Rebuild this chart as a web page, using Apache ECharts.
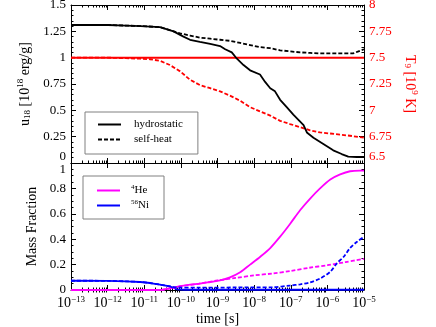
<!DOCTYPE html>
<html>
<head>
<meta charset="utf-8">
<script src="https://cdn.jsdelivr.net/npm/echarts@6/dist/echarts.min.js"></script>
<style>
html, body { margin: 0; padding: 0; background: #fff; }
#chart { width: 436px; height: 327px; }
</style>
</head>
<body>
<div id="chart"></div>
<script>
// time is kept as log10(t / s)
const xTicks = [-13, -12, -11, -10, -9, -8, -7, -6, -5]

// top panel: u18 (left axis) and T9 (right axis)
const uHydro = [[-13, 1.31], [-12, 1.31], [-11.5, 1.305], [-11.1, 1.3], [-10.57, 1.29], [-10.2, 1.25], [-9.93, 1.2], [-9.75, 1.17], [-9.48, 1.15], [-9.2, 1.13], [-8.93, 1.11], [-8.79, 1.08], [-8.61, 1.05], [-8.47, 0.99], [-8.29, 0.93], [-8.11, 0.88], [-7.84, 0.84], [-7.7, 0.77], [-7.56, 0.71], [-7.43, 0.68], [-7.29, 0.6], [-7.11, 0.53], [-6.93, 0.46], [-6.79, 0.41], [-6.65, 0.36], [-6.56, 0.29], [-6.38, 0.24], [-6.11, 0.18], [-5.84, 0.12], [-5.61, 0.085], [-5.43, 0.06], [-5.2, 0.057], [-5, 0.057]]
const uSelf = [[-13, 1.31], [-12, 1.31], [-11.1, 1.3], [-10.57, 1.29], [-10.2, 1.25], [-10.02, 1.23], [-9.75, 1.21], [-9.48, 1.19], [-9.2, 1.18], [-8.93, 1.17], [-8.66, 1.16], [-8.38, 1.14], [-8.11, 1.12], [-7.84, 1.1], [-7.56, 1.09], [-7.29, 1.07], [-7.02, 1.06], [-6.74, 1.05], [-6.47, 1.045], [-6.2, 1.04], [-5.92, 1.04], [-5.65, 1.04], [-5.3, 1.04], [-5.15, 1.06], [-5, 1.08]]
const tHydro = [[-13, 7.5], [-5, 7.5]]
const tSelf = [[-13, 7.5], [-12, 7.5], [-11.5, 7.495], [-11.11, 7.49], [-10.84, 7.485], [-10.57, 7.47], [-10.3, 7.43], [-10.02, 7.37], [-9.75, 7.29], [-9.48, 7.24], [-9.2, 7.21], [-8.93, 7.18], [-8.66, 7.14], [-8.38, 7.09], [-8.11, 7.03], [-7.84, 6.99], [-7.56, 6.95], [-7.29, 6.9], [-7.02, 6.87], [-6.74, 6.84], [-6.47, 6.81], [-6.2, 6.79], [-5.92, 6.78], [-5.65, 6.77], [-5.3, 6.755], [-5, 6.74]]

// bottom panel: mass fractions
const heHydro = [[-13, 0], [-10.6, 0], [-10.3, 0.015], [-10.02, 0.03], [-9.75, 0.042], [-9.48, 0.05], [-9.2, 0.063], [-8.93, 0.076], [-8.66, 0.1], [-8.38, 0.14], [-8.11, 0.2], [-7.84, 0.26], [-7.56, 0.33], [-7.29, 0.42], [-7.02, 0.52], [-6.74, 0.63], [-6.47, 0.72], [-6.2, 0.8], [-5.92, 0.87], [-5.65, 0.91], [-5.38, 0.935], [-5.1, 0.94], [-5, 0.94]]
const heSelf = [[-13, 0], [-10.6, 0], [-10.3, 0.01], [-10, 0.03], [-9.5, 0.05], [-9, 0.075], [-8.5, 0.095], [-8, 0.115], [-7.5, 0.13], [-7, 0.15], [-6.5, 0.175], [-6, 0.195], [-5.5, 0.22], [-5, 0.245]]
const niHydro = [[-13, 0.073], [-12, 0.072], [-11.5, 0.068], [-11.11, 0.063], [-10.84, 0.055], [-10.57, 0.042], [-10.3, 0.029], [-10.2, 0.016], [-10.1, 0.005], [-9.9, 0.002], [-5, 0.002]]
const niSelf = [[-13, 0.073], [-12, 0.072], [-11.5, 0.068], [-11.11, 0.063], [-10.84, 0.055], [-10.57, 0.042], [-10.3, 0.029], [-10.1, 0.02], [-9.5, 0.018], [-8.5, 0.02], [-7.5, 0.022], [-7.02, 0.035], [-6.74, 0.045], [-6.47, 0.06], [-6.2, 0.09], [-5.92, 0.144], [-5.74, 0.21], [-5.56, 0.26], [-5.38, 0.33], [-5.19, 0.38], [-5, 0.42]]

const FONT = 'Liberation Serif'
// log minor tick positions (2..9 x 10^n)
const minorX = []
for (let n = -13; n < -5; n++) {
  for (let k = 2; k < 10; k++) minorX.push(n + Math.log10(k))
}

function xAxis(grid, position, opts) {
  return Object.assign({
    type: 'value',
    gridIndex: grid,
    position: position,
    min: -13,
    max: -5,
    interval: 1,
    axisLine: { show: true, onZero: false, lineStyle: { color: '#000', width: 1 } },
    axisTick: { show: true, inside: true, length: 5, lineStyle: { color: '#000' }, customValues: xTicks },
    axisLabel: { show: false },
    splitLine: { show: false }
  }, opts || {})
}
function minorAxis(grid, position) {
  return xAxis(grid, position, {
    axisLine: { show: false },
    axisTick: { show: true, inside: true, length: 2.5, lineStyle: { color: '#000' }, customValues: minorX }
  })
}

const chart = echarts.init(document.getElementById('chart'))
const options = {
  animation: false,
  textStyle: { fontFamily: FONT },
  grid: [
    { left: 71, top: 5, width: 293, height: 158, containLabel: false, outerBoundsMode: 'none' },
    { left: 71, top: 163, width: 293, height: 127, containLabel: false, outerBoundsMode: 'none' }
  ],
  xAxis: [
    xAxis(0, 'bottom'),
    xAxis(0, 'top'),
    minorAxis(0, 'bottom'),
    minorAxis(0, 'top'),
    xAxis(1, 'bottom', {
      name: 'time [s]',
      nameLocation: 'middle',
      nameGap: 22,
      nameTextStyle: { fontFamily: FONT, fontSize: 14, color: '#000' },
      axisLabel: {
        show: true,
        margin: 5,
        color: '#000',
        fontFamily: FONT,
        formatter: v => '{b|10}{s|' + String(v).replace('-', '\u2212') + '}',
        rich: {
          b: { fontFamily: FONT, fontSize: 14, color: '#000' },
          s: { fontFamily: FONT, fontSize: 9, color: '#000', padding: [0, 0, 8, 0] }
        }
      }
    }),
    xAxis(1, 'top'),
    minorAxis(1, 'bottom'),
    minorAxis(1, 'top')
  ],
  yAxis: [
    {
      type: 'value', gridIndex: 0, position: 'left', min: 0, max: 1.5, interval: 0.25,
      name: '{t|u}{sub|18}{t| [10}{sup|18}{t| erg/g]}',
      nameLocation: 'middle', nameRotate: 90, nameGap: 34,
      nameTextStyle: {
        rich: {
          t: { fontFamily: FONT, fontSize: 14, color: '#000' },
          sub: { fontFamily: FONT, fontSize: 9, color: '#000', padding: [6, 0, 0, 0] },
          sup: { fontFamily: FONT, fontSize: 9, color: '#000', padding: [0, 0, 8, 0] }
        }
      },
      axisLine: { show: true, onZero: false, lineStyle: { color: '#000' } },
      axisTick: { inside: true, length: 5, lineStyle: { color: '#000' } },
      minorTick: { show: true, splitNumber: 5, length: 2.5, lineStyle: { color: '#000' } },
      axisLabel: { color: '#000', fontFamily: FONT, fontSize: 13, margin: 5, verticalAlignMinLabel: 'bottom' },
      splitLine: { show: false }
    },
    {
      type: 'value', gridIndex: 0, position: 'right', min: 6.5, max: 8, interval: 0.25,
      name: '{t|T}{sub|9}{t| [10}{sup|9}{t| K]}',
      nameLocation: 'middle', nameRotate: 270, nameGap: 36,
      nameTextStyle: {
        rich: {
          t: { fontFamily: FONT, fontSize: 14, color: '#ff0000' },
          sub: { fontFamily: FONT, fontSize: 9, color: '#ff0000', padding: [6, 0, 0, 0] },
          sup: { fontFamily: FONT, fontSize: 9, color: '#ff0000', padding: [0, 0, 8, 0] }
        }
      },
      axisLine: { show: true, onZero: false, lineStyle: { color: '#000' } },
      axisTick: { inside: true, length: 5, lineStyle: { color: '#000' } },
      minorTick: { show: true, splitNumber: 5, length: 2.5, lineStyle: { color: '#000' } },
      axisLabel: { color: '#ff0000', fontFamily: FONT, fontSize: 13, margin: 5, verticalAlignMinLabel: 'bottom' },
      splitLine: { show: false }
    },
    {
      type: 'value', gridIndex: 1, position: 'left', min: 0, max: 1, interval: 0.2,
      name: 'Mass Fraction',
      nameLocation: 'middle', nameGap: 31,
      nameTextStyle: { fontFamily: FONT, fontSize: 14, color: '#000' },
      axisLine: { show: true, onZero: false, lineStyle: { color: '#000' } },
      axisTick: { inside: true, length: 5, lineStyle: { color: '#000' } },
      minorTick: { show: true, splitNumber: 4, length: 2.5, lineStyle: { color: '#000' } },
      axisLabel: { color: '#000', fontFamily: FONT, fontSize: 13, margin: 5, verticalAlignMaxLabel: 'top' },
      splitLine: { show: false }
    },
    {
      type: 'value', gridIndex: 1, position: 'right', min: 0, max: 1, interval: 0.2,
      axisLine: { show: true, onZero: false, lineStyle: { color: '#000' } },
      axisTick: { inside: true, length: 5, lineStyle: { color: '#000' } },
      minorTick: { show: true, splitNumber: 4, length: 2.5, lineStyle: { color: '#000' } },
      axisLabel: { show: false },
      splitLine: { show: false }
    }
  ],
  legend: [
    {
      data: ['hydrostatic', 'self-heat'],
      orient: 'vertical',
      left: 85,
      top: 112,
      padding: [7, 15, 9, 12],
      itemWidth: 23,
      itemHeight: 10,
      itemGap: 4,
      itemStyle: { opacity: 0, borderWidth: 0 },
      borderColor: '#808080',
      borderWidth: 1,
      textStyle: { fontFamily: FONT, fontSize: 11, color: '#000', padding: [0, 0, 0, 8] }
    },
    {
      data: ['He', 'Ni'],
      orient: 'vertical',
      left: 83,
      top: 176,
      padding: [8, 15, 8, 13],
      itemWidth: 23,
      itemHeight: 10,
      itemGap: 3,
      itemStyle: { opacity: 0, borderWidth: 0 },
      borderColor: '#808080',
      borderWidth: 1,
      formatter: name => name === 'He' ? '{s|4}{t|He}' : '{s|56}{t|Ni}',
      textStyle: {
        fontFamily: FONT, fontSize: 11, color: '#000', padding: [0, 0, 0, 6],
        rich: {
          t: { fontFamily: FONT, fontSize: 11, color: '#000' },
          s: { fontFamily: FONT, fontSize: 7, color: '#000', padding: [0, 0, 6, 0] }
        }
      }
    }
  ],
  series: [
    { name: 'T hydrostatic', type: 'line', xAxisIndex: 0, yAxisIndex: 1, data: tHydro, symbol: 'none', lineStyle: { color: '#ff0000', width: 2 } },
    { name: 'T self-heat', type: 'line', xAxisIndex: 0, yAxisIndex: 1, data: tSelf, symbol: 'none', lineStyle: { color: '#ff0000', width: 1.8, type: [4, 2] } },
    { name: 'hydrostatic', type: 'line', xAxisIndex: 0, yAxisIndex: 0, data: uHydro, symbol: 'none', color: '#000', lineStyle: { color: '#000', width: 1.8 } },
    { name: 'self-heat', type: 'line', xAxisIndex: 0, yAxisIndex: 0, data: uSelf, symbol: 'none', color: '#000', lineStyle: { color: '#000', width: 1.8, type: [4, 2] } },
    { name: 'He', type: 'line', xAxisIndex: 4, yAxisIndex: 2, data: heHydro, symbol: 'none', smooth: 0.3, color: '#ff00ff', lineStyle: { color: '#ff00ff', width: 1.8 } },
    { name: 'Ni', type: 'line', xAxisIndex: 4, yAxisIndex: 2, data: niHydro, symbol: 'none', color: '#0000ff', lineStyle: { color: '#0000ff', width: 1.8 } },
    { name: 'He self-heat', type: 'line', xAxisIndex: 4, yAxisIndex: 2, data: heSelf, symbol: 'none', smooth: 0.3, lineStyle: { color: '#ff00ff', width: 1.8, type: [4, 2] } },
    { name: 'Ni self-heat', type: 'line', xAxisIndex: 4, yAxisIndex: 2, data: niSelf, symbol: 'none', smooth: 0.3, lineStyle: { color: '#0000ff', width: 1.8, type: [4, 2] } }
  ]
}
chart.setOption(options)
</script>
</body>
</html>
